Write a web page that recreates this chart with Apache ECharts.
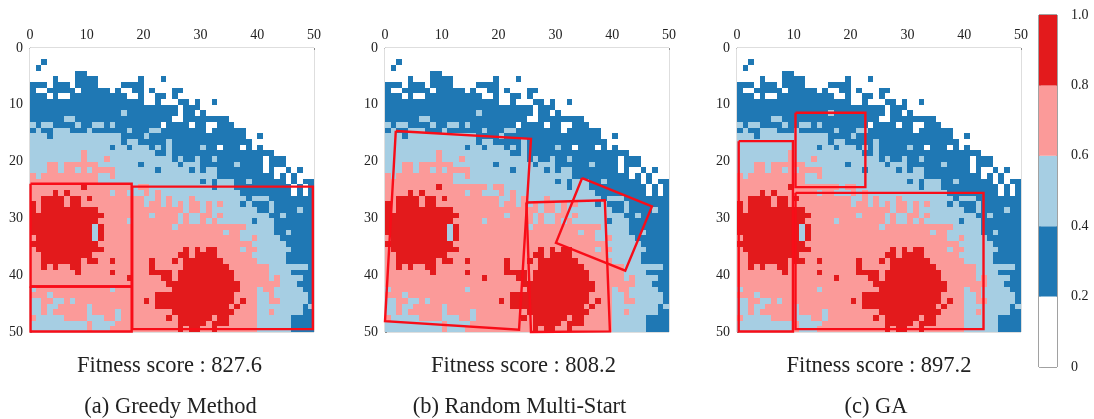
<!DOCTYPE html>
<html><head><meta charset="utf-8">
<style>html,body{margin:0;padding:0;background:#fff}#c{width:1094px;height:419px}</style>
<script src="https://cdn.jsdelivr.net/npm/echarts@6/dist/echarts.min.js"></script></head>
<body><div id="c"></div><script>
// Each row of the 50x50 map: spans of class letter + column range; later spans overwrite earlier ones.
const rowSpans = [
"", "",
"b2", "b1", "b8-9",
"b4 b8-11 b19 b23",
"b0-2 b4-6 b8-11 b16-19",
"b0 b3-7 b9-13 b15 b18-19 b21 b25-26",
"b0-2 b4 b7-16 b19 b22-23 b25",
"b0-19 b22 b26-27 b29 b32",
"b0-25 b27-29",
"b0-25 l16 b27-28 b30",
"b0-24 l6-7 b27-34",
"b0-22 l0 l2-3 l8 l11-12 l14 .23 b24-27 b29-30 b33-35",
"b0 l1 b2-3 l4-6 b7-9 l10 b11-16 l17 b18-20 l21-22 b23-30 b32-37",
"l0-2 b3 l4-15 b16-19 l20 b21-37 b40",
"l0-15 b16 l17-18 b19-23 l24 b25-38",
"l0-13 b14 l15-16 b17 l18-20 b21 l22 b23 l24 b25-29 l30 b31-32 b34-36 b38 b40",
"l0-8 p9 l10-21 b22-23 l24 b25-42",
"l0-8 p9 l10-12 p13 l14-24 b25 l26 b27-28 l29 b30-31 l32 b33-40 b42-44",
"l0-2 p3-4 l5 p6-11 l12-18 b19 l20-25 b26 l27-29 b30-35 l36 b37-40 b42-44",
"l0-2 p3-4 l5 p6-7 l8 p9 l10 p11-14 l15-21 b22 l23-27 b28 l29 b30 l31-32 b33-40 b42 b45 b47",
"p0 l1 p2-11 l12-13 p14 l15-32 b33-42 b44 b46",
"p0-11 l12-14 l15-29 b30 l31 b32 l33-35 b36-37 l38 b39-44 b46 b48-49",
"p0-8 r9 p10-17 l18 p19-20 l21-31 b32 l33-35 b36-45 b47 b49",
"p0-3 r4 p5 r6 p7-13 l14 p15-16 l17-19 p20 l21 p22 l23-36 b37-45 b47 b49",
"p0-1 r2-5 p6 r7-8 p9 r10 p11-19 l20-21 p22 l23 p24 l25-27 p28 l29-37 b38 l39-41 b42-49",
"r0 p1 r2-5 p6 r7-8 p9-19 l20 p21-22 l23 p24 l25 p26 l27 p28 p29 l30 p31 l32 p33 l34-36 b37 l38 b39-41 l42 b43-49",
"r0 p1 r2-11 p12-26 l27 p28-29 l30 p31 l32-39 b40-41 l42 b43-49 l47",
"r0-12 p13-20 l21 p22-25 l26 p27 l28-29 p30-31 l32 p33 l34-41 b42-44 l44 b45-49",
"r0-11 p12-16 l17 p18-25 l26 p27 l28-29 p30 l31 p32 l33-38 b39 l40-42 b43-49",
"r0-10 l11 r12 p13-24 l25 p26-36 p37 l38-42 b43-49",
"r0-10 l11 r12 p13-33 l34 p35-36 l37-42 b43-44 l45 b46-49",
"p0 r1-10 l11 r12 p13-36 l37-38 p39 l40-43 b44-49",
"r0-11 p12-37 p38 l39-44 b45-49",
"p0 r1-12 p13-26 r27 p28 r29 p30 r31-32 p33-36 l37 p38-39 l40-45 b46-49",
"p0-1 r2-9 r10 p11-25 r26-27 p28 r29-32 p33-38 l39-44 b45-49",
"p0-1 r2-8 p9 r10-11 p12-13 r14 p15-20 r21 p22-24 r25 p26 r27-33 p34-39 l40-44 b45-49",
"p0-1 r2 p3 r4 p5-6 r7-8 p9-20 r21 p22-26 r27-34 p35-41 l42-48 b49",
"p0-7 r8 p9-13 r14 p15-20 r21-24 p25 r26 r27-35 p36-41 l42-45 b46-49",
"p0-16 r17 p18-22 r23-24 p25 r26-35 p36-42 l42 p43 l44-47 b48-49",
"p0-23 r24-36 p37-43 l44-46 b47-49",
"l0 p1-13 l14 p15-24 r25-36 p37-39 l40 p41-42 l43-47 b48-49",
"p0-2 l3 p4-21 r22-35 p36-39 l40-41 p42 l43-48 b49",
"l0-1 p2-3 l4-5 p6 l7 p8-19 r20 p21 r22-35 p36 r37 p38-39 l40-41 p42 p43 l44-48 b49",
"l0-1 p2 l3-4 p5-9 l10 p11-21 r22-34 p35 r36 p37-39 l40-47 b48 l49",
"l0-1 p2 l3 p4-9 l10 p11-14 l15 p16-24 r25-35 p36-39 l40-41 p42 l43-47 b48-49",
"p0 l1-5 p6-9 l10-12 p13-14 l15 p16-23 r24 p25 r26-31 p32 r33-34 p35-39 l40-45 b46-49",
"l0-9 p10 l11-14 p15-25 r26-31 p31 r32-34 p35-39 l40-45 b46-49",
"l0-9 p10 l11-13 p14-25 r26 p27 r28-29 p30-31 r32 p33-39 l40-45 b46-49"
];
const classValues = {".":0.1,b:0.3,l:0.5,p:0.7,r:0.9};
const bandColors = ["#ffffff","#1f78b4","#a6cee3","#fb9a99","#e31a1c"];
const bandStarts = [0,0.2,0.4,0.6,0.8];
const scoreLabels = ["Fitness score : 827.6","Fitness score : 808.2","Fitness score : 897.2"];
const methodLabels = ["(a) Greedy Method","(b) Random Multi-Start","(c) GA"];
const greedyRects = [
 [[0.1,23.9],[17.9,23.9],[17.9,42],[0.1,42]],
 [[0.1,42],[17.9,42],[17.9,49.9],[0.1,49.9]],
 [[18,24.4],[49.8,24.4],[49.8,49.5],[18,49.5]]
];
const randomRects = [
 [[1.9,14.6],[25.7,16],[23.6,49.6],[0,48.1]],
 [[24.9,27.2],[38.7,26.8],[39.6,49.9],[25.7,50]],
 [[34.7,22.9],[47,27.9],[42.3,39.2],[30.1,34.3]]
];
const gaRects = [
 [[0.3,16.4],[9.85,16.4],[9.85,49.9],[0.3,49.9]],
 [[10.3,11.4],[22.6,11.4],[22.6,24.5],[10.3,24.5]],
 [[10.3,25.5],[43.4,25.5],[43.4,49.5],[10.3,49.5]]
];

const cells = [];
rowSpans.forEach((s, r) => {
  const row = new Array(50).fill(".");
  s.split(" ").filter(Boolean).forEach(t => {
    const k = t[0], [a, b] = t.slice(1).split("-").map(Number);
    for (let c = a; c <= (b === undefined ? a : b); c++) row[c] = k;
  });
  row.forEach((k, c) => cells.push([c, r, classValues[k]]));
});
const colorOf = v => bandColors[Math.min(4, Math.floor(v / 0.2))];
const font = "'Liberation Serif','Times New Roman',serif";
const grids = [{left:30,top:48,width:284,height:284},{left:385,top:48,width:284,height:284},{left:737,top:48,width:284,height:284}];
const option = {animation:false,backgroundColor:"#fff",grid:[],xAxis:[],yAxis:[],series:[],title:[]};
const centersA=[169.5,523.5,879], centersB=[170.5,519.5,876];
[greedyRects,randomRects,gaRects].forEach((rects,i)=>{
  option.grid.push({...grids[i],show:true,borderColor:"#bdbdbd",borderWidth:1,backgroundColor:"#fff"});
  const ax = {type:"value",min:0,max:50,interval:10,gridIndex:i,splitLine:{show:false},
    axisLine:{show:true,onZero:false,lineStyle:{color:"#8c8c8c"}},axisTick:{show:true,length:2,inside:true,lineStyle:{color:"#8c8c8c"}},
    axisLabel:{color:"#222",fontFamily:font,fontSize:14,margin:6}};
  option.xAxis.push({...ax,position:"top"});
  option.yAxis.push({...ax,inverse:true,position:"left",axisLine:{show:true,onZero:false,lineStyle:{color:"#bdbdbd"}},axisLabel:{...ax.axisLabel,margin:7}});
  option.series.push({type:"custom",xAxisIndex:i,yAxisIndex:i,data:cells,clip:true,z:2,silent:true,
    renderItem:(p,api)=>{
      const a=api.coord([api.value(0),api.value(1)]), b=api.coord([api.value(0)+1,api.value(1)+1]);
      const x=Math.round(a[0]),y=Math.round(a[1]);
      return {type:"rect",shape:{x,y,width:Math.round(b[0])-x,height:Math.round(b[1])-y},style:{fill:colorOf(api.value(2))}};
    }});
  rects.forEach(poly=>{
    option.series.push({type:"line",xAxisIndex:i,yAxisIndex:i,data:poly.concat([poly[0]]),symbol:"none",clip:false,z:5,silent:true,
      lineStyle:{color:"#f80d18",width:2.4,join:"miter"}});
  });
  option.title.push({text:scoreLabels[i],left:centersA[i],top:355,padding:0,textAlign:"center",textStyle:{fontFamily:font,fontSize:22.5,fontWeight:"normal",color:"#222"}});
  option.title.push({text:methodLabels[i],left:centersB[i],top:396,padding:0,textAlign:"center",textStyle:{fontFamily:font,fontSize:22.5,fontWeight:"normal",color:"#222"}});
});
// colour bar
option.grid.push({left:1039,top:15,width:18,height:352,show:true,borderColor:"#444",borderWidth:1});
option.xAxis.push({type:"value",gridIndex:3,min:0,max:1,show:false});
option.yAxis.push({type:"value",gridIndex:3,min:0,max:1,interval:0.2,position:"right",splitLine:{show:false},
  axisLine:{show:true,lineStyle:{color:"#a8a8a8"}},axisTick:{show:true,length:2,lineStyle:{color:"#a8a8a8"}},
  axisLabel:{color:"#222",fontFamily:font,fontSize:14,margin:14,formatter:v=>v===0?"0":v.toFixed(1)}});
option.series.push({type:"custom",xAxisIndex:3,yAxisIndex:3,data:bandStarts.map((s,i)=>[s,i]),z:2,silent:true,
  renderItem:(p,api)=>{
    const a=api.coord([0,api.value(0)+0.2]),b=api.coord([1,api.value(0)]);
    return {type:"rect",shape:{x:a[0],y:a[1],width:b[0]-a[0],height:b[1]-a[1]},style:{fill:bandColors[api.value(1)]}};
  }});
echarts.init(document.getElementById("c"),null,{renderer:"canvas"}).setOption(option);
</script></body></html>
